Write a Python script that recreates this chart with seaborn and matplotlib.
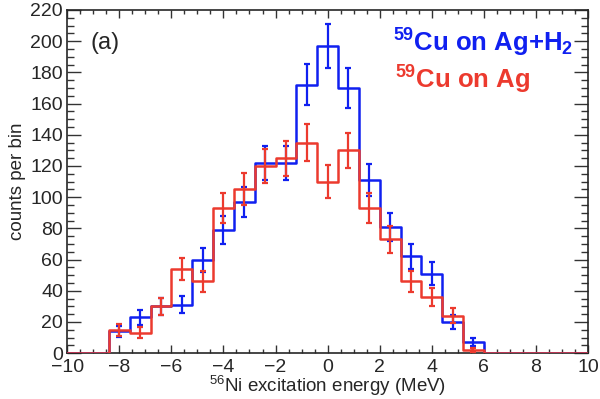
import numpy as np
import pandas as pd
import matplotlib
matplotlib.use("Agg")
import matplotlib.pyplot as plt
import seaborn as sns
from matplotlib.ticker import MultipleLocator

# 25 bins of 0.8 MeV between -10 and 10
bin_edges = np.linspace(-10, 10, 26)
bin_centers = (bin_edges[:-1] + bin_edges[1:]) / 2

counts_h2 = [0, 0, 14, 23, 30, 31, 60, 79, 97, 122, 122, 172, 197, 170, 111, 81, 62, 51, 20, 7, 0, 0, 0, 0, 0]
errs_h2 = [0, 0, 3.7, 4.8, 5.5, 5.6, 7.7, 8.9, 9.8, 11, 11, 13.1, 14, 13, 10.5, 9, 7.9, 7.1, 4.5, 2.6, 0, 0, 0, 0, 0]
counts_ag = [0, 0, 15, 13, 30, 54, 46, 93, 105, 120, 125, 135, 110, 130, 93, 73, 46, 36, 24, 2, 0, 0, 0, 0, 0]
errs_ag = [0, 0, 3.9, 3.6, 5.5, 7.3, 6.8, 9.6, 10.2, 11, 11.2, 11.6, 10.5, 11.4, 9.6, 8.5, 6.8, 6, 4.9, 1.4, 0, 0, 0, 0, 0]

label_h2 = "$^{59}$Cu on Ag+H$_2$"
label_ag = "$^{59}$Cu on Ag"
blue = "#1020f0"
red = "#ec3a2e"

sns.set_style("ticks")
plt.rcParams["font.family"] = ["Liberation Sans", "DejaVu Sans"]
plt.rcParams["mathtext.default"] = "regular"

df = pd.DataFrame({
    "energy": np.concatenate([bin_centers, bin_centers]),
    "counts": counts_h2 + counts_ag,
    "err": errs_h2 + errs_ag,
    "sample": [label_h2] * 25 + [label_ag] * 25,
})

fig = plt.figure(figsize=(6, 3.99), dpi=100)
ax = fig.add_axes([0.112, 0.115, 0.868, 0.86])

for name, color in [(label_h2, blue), (label_ag, red)]:
    sub = df[df["sample"] == name]
    sns.histplot(data=sub, x="energy", weights="counts", bins=list(bin_edges),
                 element="step", fill=False, color=color, linewidth=1.8, zorder=3, ax=ax)
    nz = sub[sub["counts"] > 0]
    ax.errorbar(nz["energy"], nz["counts"], yerr=nz["err"], fmt="none",
                ecolor=color, elinewidth=1.6, capsize=2.2, capthick=1.6, zorder=3)

ax.set_xlim(-10, 10)
ax.set_ylim(0, 220)
ax.xaxis.set_major_locator(MultipleLocator(2))
ax.xaxis.set_minor_locator(MultipleLocator(0.5))
ax.yaxis.set_major_locator(MultipleLocator(20))
ax.yaxis.set_minor_locator(MultipleLocator(5))
ax.tick_params(which="both", direction="in", top=True, right=True, labelsize=14, width=1.0, color="#333333")
ax.tick_params(axis="x", which="major", length=6, pad=4)
ax.tick_params(axis="x", which="minor", length=3)
ax.tick_params(axis="y", which="major", length=10, pad=3)
ax.tick_params(axis="y", which="minor", length=5)
for sp in ax.spines.values():
    sp.set_linewidth(1.2)
    sp.set_visible(True)

ax.set_xlabel("$^{56}$Ni excitation energy (MeV)", fontsize=13.5, labelpad=-1)
ax.set_ylabel("counts per bin", fontsize=13.5, labelpad=3)

ax.text(0.045, 0.905, "(a)", transform=ax.transAxes, fontsize=17, va="center", ha="left")
ax.text(0.625, 0.905, label_h2, transform=ax.transAxes, fontsize=18.5, fontweight="bold",
        color=blue, va="center", ha="left")
ax.text(0.63, 0.795, label_ag, transform=ax.transAxes, fontsize=18.5, fontweight="bold",
        color=red, va="center", ha="left")

fig.savefig("out.png", dpi=100)
